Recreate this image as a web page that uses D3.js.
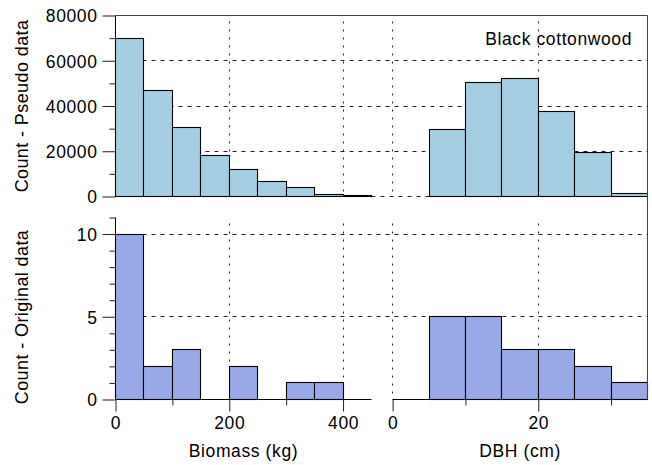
<!DOCTYPE html>
<html>
<head>
<meta charset="utf-8">
<script src="https://cdn.jsdelivr.net/npm/d3@7"></script>
<style>
  body { margin: 0; background: white; }
  text { font-family: "Liberation Sans", Arial, sans-serif; font-size: 17.5px; fill: black; }
</style>
</head>
<body>
<svg id="canvas" width="652" height="465"></svg>
<script>
// histogram bin edges
let biomassEdges = [0, 50, 100, 150, 200, 250, 300, 350, 400, 450]
let dbhEdges = [5, 10, 15, 20, 25, 30, 35]

// counts per bin
let pseudoBiomass = [70000, 46900, 30300, 18000, 12000, 6600, 3800, 800, 200]
let pseudoDbh = [29500, 50400, 52000, 37500, 19300, 1500]
let originalBiomass = [10, 2, 3, 0, 2, 0, 1, 1, 0]
let originalDbh = [5, 5, 3, 3, 2, 1]

// ticks
let topYMajor = [0, 20000, 40000, 60000, 80000]
let topYMinor = [10000, 30000, 50000, 70000]
let botYMajor = [0, 5, 10]
let botYMinor = [1, 2, 3, 4, 6, 7, 8, 9, 11]
let biomassMajor = [0, 200, 400]
let biomassMinor = [100, 300]
let dbhMajor = [0, 20]
let dbhMinor = [10, 30]
let topGrid = [20000, 40000, 60000]
let botGrid = [5, 10]

let topColor = '#a6cee3'
let botColor = '#99a9e8'

let canvas = d3.select('#canvas')

let xBio = d3.scaleLinear().domain([0, 450]).range([115.5, 371.5])
let xDbh = d3.scaleLinear().domain([-2.9, 35]).range([371.5, 647.5])
let yTop = d3.scaleLinear().domain([0, 80000]).range([196.5, 15.5])
let yBot = d3.scaleLinear().domain([0, 11]).range([399.5, 217.5])

// keep 1px lines on whole pixels
let snap = (v) => Math.round(v - 0.5) + 0.5

let grid = canvas.append('g')
    .attr('stroke', '#222')
    .attr('stroke-width', 1)

let hGrid = (y, values, x1, x2) => {
    grid.selectAll(null)
        .data(values)
        .enter()
        .append('line')
        .attr('x1', x1).attr('x2', x2)
        .attr('y1', (d) => snap(y(d))).attr('y2', (d) => snap(y(d)))
        .attr('stroke-dasharray', '4,5')
}

let vGrid = (x, values, y) => {
    grid.selectAll(null)
        .data(values)
        .enter()
        .append('line')
        .attr('x1', (d) => snap(x(d))).attr('x2', (d) => snap(x(d)))
        .attr('y1', y.range()[1] + 6).attr('y2', y.range()[0])
        .attr('stroke-dasharray', '2,6')
}

hGrid(yTop, topGrid, xBio(0), xDbh(35))
hGrid(yTop, [0], xDbh.range()[0], xDbh(35))
hGrid(yBot, botGrid, xBio(0), xDbh(35))
vGrid(xBio, [200, 400], yTop)
vGrid(xBio, [200, 400], yBot)
vGrid(xDbh, [0, 20], yTop)
vGrid(xDbh, [0, 20], yBot)

let drawBars = (x, y, edges, counts, color) => {
    let bins = counts.map((c, i) => ({ x0: edges[i], x1: edges[i + 1], count: c }))
        .filter((b) => b.count > 0)
    canvas.append('g')
        .selectAll('rect')
        .data(bins)
        .enter()
        .append('rect')
        .attr('x', (d) => snap(x(d.x0)))
        .attr('width', (d) => snap(x(d.x1)) - snap(x(d.x0)))
        .attr('y', (d) => Math.min(snap(y(d.count)), snap(y(0)) - 1))
        .attr('height', (d) => Math.max(1, snap(y(0)) - snap(y(d.count))))
        .attr('fill', color)
        .attr('stroke', 'black')
        .attr('stroke-width', 1.1)
}

drawBars(xBio, yTop, biomassEdges, pseudoBiomass, topColor)
drawBars(xDbh, yTop, dbhEdges, pseudoDbh, topColor)
drawBars(xBio, yBot, biomassEdges, originalBiomass, botColor)
drawBars(xDbh, yBot, dbhEdges, originalDbh, botColor)

let styleAxis = (g) => {
    g.select('.domain').remove()
    g.selectAll('.tick line').attr('stroke', '#222')
    g.selectAll('text')
        .style('font-family', '"Liberation Sans", Arial, sans-serif')
        .style('font-size', '17.5px')
        .style('letter-spacing', '0.6px')
}

let leftAxis = (y, major, minor, fmt) => {
    canvas.append('g')
        .attr('transform', 'translate(' + xBio(0) + ',0)')
        .call(d3.axisLeft(y).tickValues(minor).tickSize(6).tickFormat(''))
        .call(styleAxis)
    canvas.append('g')
        .attr('transform', 'translate(' + xBio(0) + ',0)')
        .call(d3.axisLeft(y).tickValues(major).tickSize(13).tickPadding(5).tickFormat(fmt))
        .call(styleAxis)
        .selectAll('text').attr('dy', '0.36em')
    canvas.append('line')
        .attr('x1', xBio(0)).attr('x2', xBio(0))
        .attr('y1', y.range()[1]).attr('y2', y.range()[0])
        .attr('stroke', 'black')
}

leftAxis(yTop, topYMajor, topYMinor, d3.format('d'))
leftAxis(yBot, botYMajor, botYMinor, d3.format('d'))

let bottomAxis = (x, major, minor, lo, hi) => {
    canvas.append('g')
        .attr('transform', 'translate(0,' + yBot(0) + ')')
        .call(d3.axisBottom(x).tickValues(minor).tickSize(6).tickFormat(''))
        .call(styleAxis)
    canvas.append('g')
        .attr('transform', 'translate(0,' + yBot(0) + ')')
        .call(d3.axisBottom(x).tickValues(major).tickSize(12).tickPadding(5).tickFormat(d3.format('d')))
        .call(styleAxis)
    canvas.append('line')
        .attr('x1', snap(x(lo))).attr('x2', x(hi))
        .attr('y1', yBot(0)).attr('y2', yBot(0))
        .attr('stroke', 'black')
}

bottomAxis(xBio, biomassMajor, biomassMinor, 0, 450)
bottomAxis(xDbh, dbhMajor, dbhMinor, 0, 35)

// frame: top and right
canvas.append('path')
    .attr('d', 'M' + xBio(0) + ',' + yTop(80000) + 'H' + xDbh(35) + 'V' + yBot(0))
    .attr('fill', 'none')
    .attr('stroke', '#444')

canvas.append('text')
    .attr('x', (xBio(0) + xBio(450)) / 2)
    .attr('y', 457)
    .attr('text-anchor', 'middle')
    .style('letter-spacing', '0.6px')
    .text('Biomass (kg)')

canvas.append('text')
    .attr('x', (xDbh(0) + xDbh(35)) / 2)
    .attr('y', 457)
    .attr('text-anchor', 'middle')
    .style('letter-spacing', '0.6px')
    .text('DBH (cm)')

canvas.append('text')
    .attr('x', 632)
    .attr('y', 45)
    .attr('text-anchor', 'end')
    .style('letter-spacing', '0.6px')
    .text('Black cottonwood')

canvas.append('text')
    .attr('transform', 'translate(28,106) rotate(-90)')
    .attr('text-anchor', 'middle')
    .style('font-size', '18px')
    .style('letter-spacing', '0.4px')
    .text('Count - Pseudo data')

canvas.append('text')
    .attr('transform', 'translate(28,317) rotate(-90)')
    .attr('text-anchor', 'middle')
    .style('font-size', '18px')
    .style('letter-spacing', '0.4px')
    .text('Count - Original data')
</script>
</body>
</html>
